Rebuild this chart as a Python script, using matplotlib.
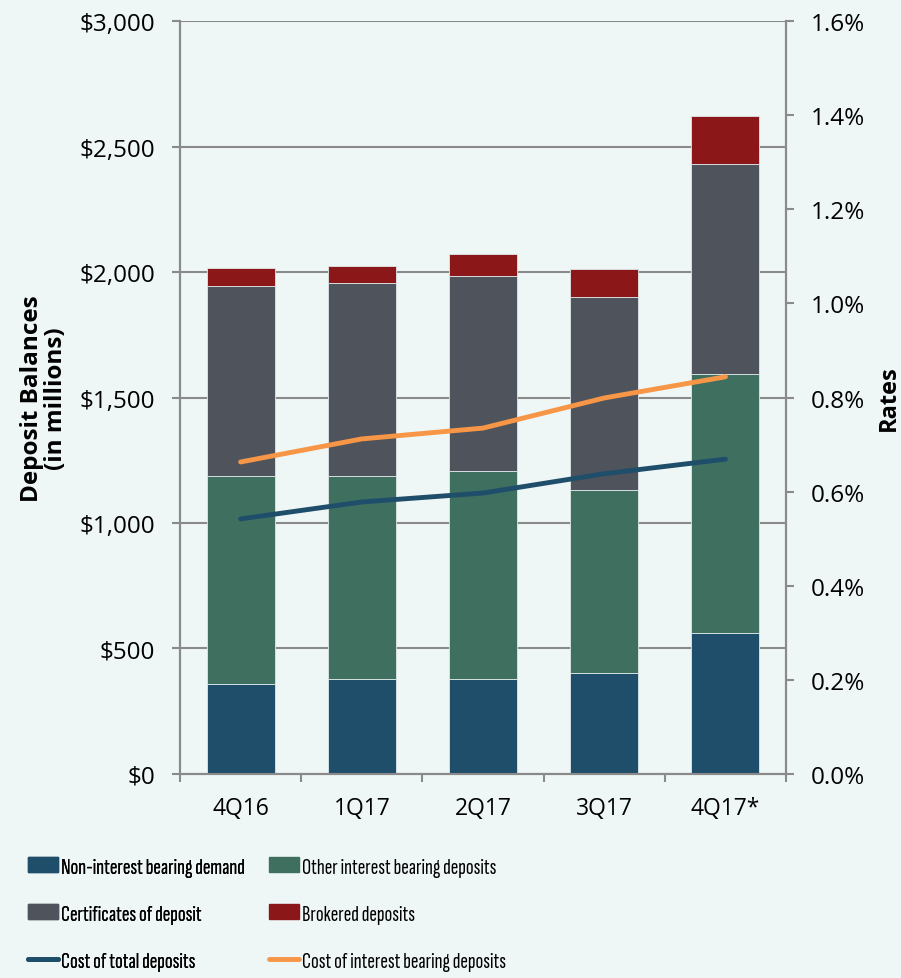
import matplotlib
matplotlib.use("Agg")
from matplotlib import pyplot as plt
from matplotlib.patches import Patch
from matplotlib.lines import Line2D
from matplotlib.ticker import FuncFormatter
import numpy as np

plt.rcParams['font.family'] = ['Open Sans', 'DejaVu Sans']
legend_font = ['Sofia Sans Extra Condensed', 'Roboto Condensed', 'DejaVu Sans']

quarters = ["4Q16", "1Q17", "2Q17", "3Q17", "4Q17*"]
non_interest = [358, 378, 378, 402, 562]
other_interest = [829, 809, 829, 729, 1032]
certificates = [757, 769, 777, 769, 836]
brokered = [72, 68, 88, 112, 192]
cost_total = [0.542, 0.578, 0.597, 0.638, 0.669]
cost_interest = [0.663, 0.712, 0.735, 0.799, 0.844]

bg = "#eff7f6"
c_blue = "#1f4e6b"
c_green = "#3f6f5f"
c_gray = "#4f535c"
c_red = "#8b1718"
c_orange = "#f79646"
axis_gray = "#8a8a8a"

fig = plt.figure(figsize=(9.01, 9.79), dpi=100, facecolor=bg)
ax = fig.add_axes([0.1998, 0.2084, 0.6726, 0.7691])
ax.set_facecolor(bg)
x = np.arange(len(quarters))
w = 0.56

b1 = np.array(non_interest)
b2 = b1 + np.array(other_interest)
b3 = b2 + np.array(certificates)
edge = dict(edgecolor="#dfe8ea", linewidth=0.6, zorder=3)
ax.bar(x, non_interest, w, color=c_blue, **edge)
ax.bar(x, other_interest, w, bottom=b1, color=c_green, **edge)
ax.bar(x, certificates, w, bottom=b2, color=c_gray, **edge)
ax.bar(x, brokered, w, bottom=b3, color=c_red, **edge)

ax.set_xlim(-0.5, 4.5)
ax.set_ylim(0, 3000)
ax.set_yticks(np.arange(0, 3001, 500))
ax.yaxis.set_major_formatter(FuncFormatter(lambda v, p: "${:,.0f}".format(v)))
ax.grid(axis="y", color=axis_gray, linewidth=1.5, zorder=1)
ax.set_xticks(x)
ax.set_xticklabels(quarters)
ax.set_xticks(np.arange(-0.5, 4.6, 1), minor=True)
ax.tick_params(axis="x", which="major", length=0, pad=16, labelsize=16.5)
ax.tick_params(axis="x", which="minor", length=6, width=1.5, color=axis_gray)
ax.tick_params(axis="y", length=6, width=1.5, color=axis_gray, labelsize=17.5, pad=12)
for s in ax.spines.values():
    s.set_color(axis_gray)
    s.set_linewidth(1.5)
ax.spines["top"].set_visible(False)
ax.set_ylabel("Deposit Balances\n(in millions)", fontsize=17.5, fontweight="bold",
              labelpad=8, linespacing=1.0)

ax2 = ax.twinx()
ax2.set_ylim(0, 0.016)
ax2.set_yticks(np.arange(0, 0.0161, 0.002))
ax2.yaxis.set_major_formatter(FuncFormatter(lambda v, p: "{:.1f}%".format(v * 100)))
ax2.plot(x, np.array(cost_interest) / 100, color=c_orange, linewidth=3.5, solid_capstyle="round", zorder=4)
ax2.plot(x, np.array(cost_total) / 100, color=c_blue, linewidth=3.5, solid_capstyle="round", zorder=4)
ax2.tick_params(axis="y", length=6, width=1.5, color=axis_gray, labelsize=17.5, pad=12)
for s in ax2.spines.values():
    s.set_color(axis_gray)
    s.set_linewidth(1.5)
ax2.spines["top"].set_visible(False)
ax2.set_ylabel("Rates", fontsize=17, fontweight="bold", labelpad=8)

col1 = [
    Patch(color=c_blue, label="Non-interest bearing demand"),
    Patch(color=c_gray, label="Certificates of deposit"),
    Line2D([0], [0], color=c_blue, linewidth=3.5, solid_capstyle="round", label="Cost of total deposits"),
]
col2 = [
    Patch(color=c_green, label="Other interest bearing deposits"),
    Patch(color=c_red, label="Brokered deposits"),
    Line2D([0], [0], color=c_orange, linewidth=3.5, solid_capstyle="round", label="Cost of interest bearing deposits"),
]
leg_kw = dict(loc="center left", frameon=False, borderpad=0, borderaxespad=0,
              prop={"family": legend_font, "size": 16.5},
              handlelength=1.31, handleheight=0.61, handletextpad=0.13, labelspacing=1.2)
leg1 = fig.legend(handles=col1, bbox_to_anchor=(28 / 901, 64 / 979), **leg_kw)
fig.add_artist(leg1)
fig.legend(handles=col2, bbox_to_anchor=(269 / 901, 64 / 979), **leg_kw)

fig.savefig("out.png", dpi=100, facecolor=bg)
